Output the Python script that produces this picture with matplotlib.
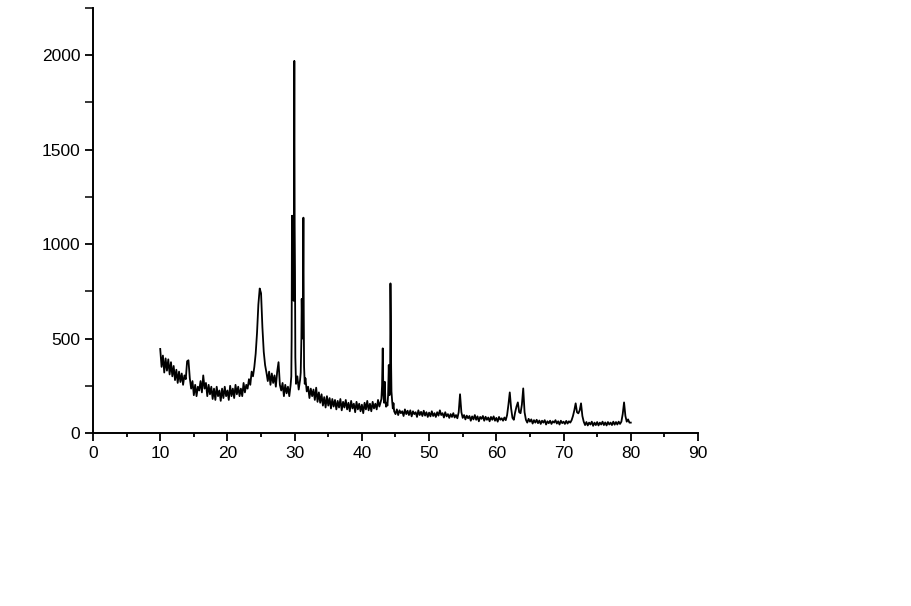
import numpy as np
import matplotlib
matplotlib.use("Agg")
import matplotlib.pyplot as plt
from matplotlib.ticker import MultipleLocator

plt.rcParams['font.family'] = ['Liberation Sans', 'DejaVu Sans']

# Segment A: 10.0 - 29.4 deg, step 0.2
seg_a_x = np.round(np.arange(10.0, 29.41, 0.2), 2)
seg_a_y = [
    445, 350, 410, 320, 395,
    330, 390, 310, 375, 300,
    355, 280, 335, 265, 325,
    270, 315, 255, 305, 285,
    380, 385, 290, 235, 275,
    200, 255, 195, 245, 225,
    275, 215, 305, 235, 265,
    195, 255, 205, 245, 180,
    235, 175, 245, 195, 225,
    170, 235, 185, 245, 195,
    225, 175, 250, 195, 235,
    185, 255, 205, 245, 195,
    235, 195, 265, 215, 255,
    235, 285, 255, 325, 300,
    350, 420, 530, 680, 765,
    740, 560, 430, 360, 320,
    275, 325, 255, 315, 265,
    305, 245, 325, 375, 255,
    225, 265, 195, 255, 210,
    245, 195, 255,
]

# Segment B: strong peaks near 30 and 31 deg
seg_b_x = [29.5, 29.55, 29.6, 29.65, 29.7, 29.75, 29.8, 29.85, 29.9, 29.95,
           30.0, 30.05, 30.1, 30.2, 30.4, 30.6, 30.8, 30.9, 31.0, 31.05,
           31.1, 31.15, 31.2, 31.25, 31.3, 31.35, 31.4, 31.5, 31.6, 31.8]
seg_b_y = [300, 500, 1150, 950, 1150, 1000, 1140, 700, 1300, 1970,
           1100, 850, 400, 260, 300, 230, 280, 320, 500, 710,
           600, 700, 500, 800, 1140, 650, 350, 260, 290, 220]

# Segment C: 32.0 - 42.8 deg, step 0.2
seg_c_x = np.round(np.arange(32.0, 42.81, 0.2), 2)
seg_c_y = [
    245, 185, 235, 195, 230,
    175, 240, 165, 215, 160,
    205, 145, 190, 135, 195,
    145, 185, 130, 180, 140,
    175, 125, 170, 135, 180,
    120, 165, 135, 175, 125,
    160, 115, 170, 130, 155,
    110, 165, 125, 155, 115,
    150, 105, 160, 125, 170,
    120, 155, 115, 165, 130,
    155, 125, 175, 140, 165,
]

# Segment D: peaks near 43 - 44.3 deg
seg_d_x = [42.9, 43.0, 43.1, 43.2, 43.3, 43.4, 43.5, 43.6, 43.7, 43.8, 43.9,
           44.0, 44.1, 44.2, 44.25, 44.3, 44.35, 44.4, 44.5, 44.6, 44.7, 44.8]
seg_d_y = [180, 250, 448, 200, 160, 271, 170, 139, 160, 145, 200,
           360, 200, 300, 792, 617, 350, 220, 170, 130, 158, 115]

# Segment E: 45.0 - 80.0 deg, step 0.2
seg_e_x = np.round(np.arange(45.0, 80.01, 0.2), 2)
seg_e_y = [
    100, 125, 95, 120, 105,
    115, 90, 125, 100, 118,
    95, 120, 88, 115, 100,
    110, 85, 120, 95, 112,
    90, 118, 92, 110, 85,
    108, 88, 115, 90, 105,
    85, 110, 92, 120, 95,
    105, 82, 110, 88, 100,
    80, 100, 85, 105, 82,
    95, 78, 110, 205, 110,
    80, 95, 72, 92, 78,
    90, 65, 88, 72, 95,
    70, 88, 62, 85, 75,
    90, 65, 86, 70, 82,
    62, 85, 70, 88, 65,
    80, 60, 85, 70, 78,
    65, 82, 68, 95, 150,
    215, 130, 80, 70, 110,
    140, 162, 110, 105, 150,
    236, 110, 70, 55, 75,
    60, 72, 50, 68, 55,
    70, 52, 66, 48, 65,
    55, 68, 45, 62, 52,
    65, 48, 62, 55, 68,
    50, 62, 45, 65, 52,
    60, 48, 64, 50, 62,
    55, 68, 90, 120, 157,
    110, 104, 120, 157, 90,
    60, 42, 58, 40, 55,
    45, 60, 38, 55, 42,
    58, 40, 55, 45, 60,
    42, 56, 40, 58, 45,
    55, 42, 60, 44, 58,
    45, 60, 48, 60, 100,
    162, 90, 60, 72, 55,
    55,
]

two_theta = np.concatenate([seg_a_x, seg_b_x, seg_c_x, seg_d_x, seg_e_x])
intensity = np.concatenate([seg_a_y, seg_b_y, seg_c_y, seg_d_y, seg_e_y])

x_ticks = [0, 10, 20, 30, 40, 50, 60, 70, 80, 90]
y_ticks = [0, 500, 1000, 1500, 2000]

fig = plt.figure(figsize=(9.12, 6.06), dpi=100)
ax = fig.add_axes([93 / 912, 1 - 433 / 606, (698 - 93) / 912, (433 - 8) / 606])

ax.plot(two_theta, intensity, color='black', linewidth=1.3)

ax.set_xlim(0, 90)
ax.set_ylim(0, 2250)
ax.set_xticks(x_ticks)
ax.set_yticks(y_ticks)
ax.xaxis.set_minor_locator(MultipleLocator(5))
ax.yaxis.set_minor_locator(MultipleLocator(250))

for s in ['top', 'right']:
    ax.spines[s].set_visible(False)
for s in ['left', 'bottom']:
    ax.spines[s].set_linewidth(1.4)

ax.tick_params(axis='x', which='major', direction='out', length=6, width=1.3,
               labelsize=12.5, pad=3)
ax.tick_params(axis='x', which='minor', direction='out', length=3, width=1.3)
ax.tick_params(axis='y', which='major', direction='out', length=6, width=1.3,
               labelsize=12.5, pad=3)
ax.tick_params(axis='y', which='minor', direction='out', length=6, width=1.1)

fig.savefig('out.png', dpi=100)
